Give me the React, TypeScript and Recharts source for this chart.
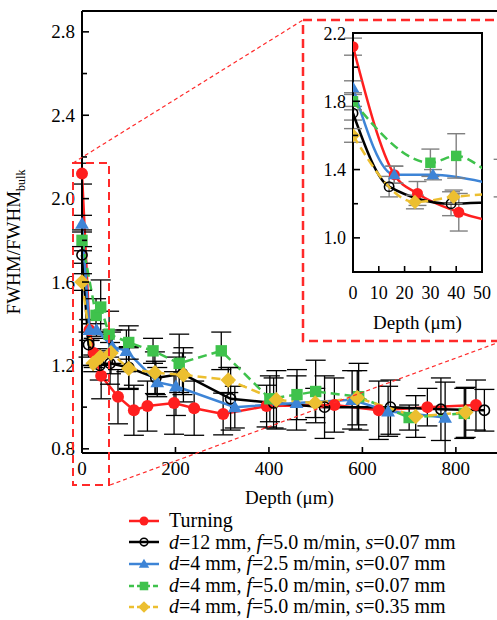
import React from 'react';
import { LineChart, Line, XAxis, YAxis, ErrorBar, ReferenceLine, ReferenceArea, Label } from 'recharts';

// depth (µm), FWHM/FWHM_bulk and error, per surface condition
const turningDepth = [0, 16, 25, 41, 77, 111, 140, 197, 240, 302, 395, 540, 635, 739, 843];
const turningFwhm = [2.12, 1.37, 1.26, 1.15, 1.05, 0.985, 1.005, 1.02, 0.995, 0.967, 1.005, 1.01, 0.985, 1.0, 1.01];
const turningErr = [0.05, 0.05, 0.07, 0.11, 0.13, 0.12, 0.12, 0.15, 0.13, 0.1, 0.1, 0.13, 0.14, 0.09, 0.12];

const d12Depth = [0, 14, 38, 60, 100, 158, 215, 318, 410, 519, 660, 768, 861];
const d12Fwhm = [1.73, 1.3, 1.2, 1.21, 1.19, 1.14, 1.16, 1.04, 1.02, 1.0, 1.0, 0.99, 0.985];
const d12Err = [0.04, 0.06, 0.07, 0.1, 0.1, 0.08, 0.1, 0.15, 0.12, 0.15, 0.13, 0.15, 0.1];

const f25Depth = [0, 16, 31, 65, 95, 161, 201, 327, 459, 578, 655, 777];
const f25Fwhm = [1.88, 1.37, 1.37, 1.29, 1.27, 1.12, 1.1, 1.0, 1.02, 1.035, 0.98, 0.95];
const f25Err = [0.04, 0.05, 0.03, 0.08, 0.1, 0.07, 0.14, 0.1, 0.13, 0.14, 0.12, 0.17];

const f50Depth = [0, 30, 40, 58, 100, 152, 208, 298, 402, 460, 500, 592, 700, 818];
const f50Fwhm = [1.8, 1.44, 1.48, 1.35, 1.31, 1.27, 1.21, 1.27, 1.04, 1.06, 1.075, 1.05, 0.95, 0.97];
const f50Err = [0.05, 0.08, 0.13, 0.11, 0.08, 0.06, 0.14, 0.09, 0.11, 0.12, 0.15, 0.16, 0.06, 0.12];

const s35Depth = [0, 24, 39, 62, 100, 156, 217, 313, 416, 499, 589, 714, 821];
const s35Fwhm = [1.6, 1.21, 1.24, 1.26, 1.185, 1.165, 1.155, 1.13, 1.035, 1.02, 1.045, 0.955, 0.975];
const s35Err = [0.04, 0.04, 0.04, 0.1, 0.1, 0.1, 0.13, 0.06, 0.14, 0.07, 0.13, 0.1, 0.12];

const mainXTicks = [0, 200, 400, 600, 800];
const mainYTicks = [0.8, 1.0, 1.2, 1.4, 1.6, 1.8, 2.0, 2.2, 2.4, 2.6, 2.8];
const mainYLabels = ['0.8', '1.2', '1.6', '2.0', '2.4', '2.8'];
const insetXTicks = [0, 10, 20, 30, 40, 50];
const insetYTicks = [0.8, 1.0, 1.2, 1.4, 1.6, 1.8, 2.0, 2.2];
const insetYLabels = ['1.0', '1.4', '1.8', '2.2'];

const FONT = "'Liberation Serif', 'Times New Roman', serif";

const toRows = (d: number[], v: number[], e: number[]) => d.map((x, i) => ({ depth: x, fwhm: v[i], err: e[i] }));

const series = [
  { key: 'turning', data: toRows(turningDepth, turningFwhm, turningErr), color: '#ff1f1f', shape: 'circle', dash: undefined },
  { key: 'd12', data: toRows(d12Depth, d12Fwhm, d12Err), color: '#000000', shape: 'open', dash: undefined },
  { key: 'f25', data: toRows(f25Depth, f25Fwhm, f25Err), color: '#3d84d6', shape: 'triangle', dash: undefined },
  { key: 'f50', data: toRows(f50Depth, f50Fwhm, f50Err), color: '#3fc24c', shape: 'square', dash: '9 5' },
  { key: 's35', data: toRows(s35Depth, s35Fwhm, s35Err), color: '#ecbf30', shape: 'diamond', dash: '9 5' },
];

function Marker({ shape, color, cx, cy, s }: any) {
  if (shape === 'circle') return <circle cx={cx} cy={cy} r={s} fill={color} />;
  if (shape === 'open') return <circle cx={cx} cy={cy} r={s * 0.85} fill="none" stroke="#000" strokeWidth={1.6} />;
  if (shape === 'triangle')
    return <polygon points={`${cx},${cy - s * 1.15} ${cx - s * 1.15},${cy + s * 0.85} ${cx + s * 1.15},${cy + s * 0.85}`} fill={color} />;
  if (shape === 'square') return <rect x={cx - s * 0.95} y={cy - s * 0.95} width={s * 1.9} height={s * 1.9} fill={color} />;
  return <polygon points={`${cx},${cy - s * 1.3} ${cx + s * 1.3},${cy} ${cx},${cy + s * 1.3} ${cx - s * 1.3},${cy}`} fill={color} />;
}

const makeDot = (shape: string, color: string, s: number) => (p: any) => {
  if (p.cx == null || p.cy == null) return <g key={p.index} />;
  return <Marker key={p.index} shape={shape} color={color} cx={p.cx} cy={p.cy} s={s} />;
};

const makeYTick = (labels: string[], fontSize: number) => (p: any) => {
  const txt = p.payload.value.toFixed(1);
  const major = labels.includes(txt);
  return (
    <g>
      <line x1={p.x} x2={p.x + (major ? 7 : 5)} y1={p.y} y2={p.y} stroke="#000" strokeWidth={1.6} />
      {major && (
        <text x={p.x - 7} y={p.y + 6.5} textAnchor="end" fontFamily={FONT} fontSize={fontSize} fill="#000">
          {txt}
        </text>
      )}
    </g>
  );
};

const makeXTick = (fontSize: number, dy: number) => (p: any) => (
  <g>
    <line x1={p.x} x2={p.x} y1={p.y} y2={p.y - 6} stroke="#000" strokeWidth={1.6} />
    <text x={p.x} y={p.y + dy} textAnchor="middle" fontFamily={FONT} fontSize={fontSize} fill="#000">
      {p.payload.value}
    </text>
  </g>
);

function YLabel({ viewBox }: any) {
  const cx = 20;
  const cy = viewBox.y + viewBox.height / 2 + 10;
  return (
    <text transform={`rotate(-90 ${cx} ${cy})`} x={cx} y={cy} textAnchor="middle" fontFamily={FONT} fontSize={19} fill="#000">
      FWHM/FWHM
      <tspan fontSize={12} dy={5}>bulk</tspan>
    </text>
  );
}

const legendItems = [
  { key: 'turning', label: <>Turning</> },
  { key: 'd12', label: <><i>d</i>=12 mm, <i>f</i>=5.0 m/min, <i>s</i>=0.07 mm</> },
  { key: 'f25', label: <><i>d</i>=4 mm, <i>f</i>=2.5 m/min, <i>s</i>=0.07 mm</> },
  { key: 'f50', label: <><i>d</i>=4 mm, <i>f</i>=5.0 m/min, <i>s</i>=0.07 mm</> },
  { key: 's35', label: <><i>d</i>=4 mm, <i>f</i>=5.0 m/min, <i>s</i>=0.35 mm</> },
];

export default function App() {
  return (
    <div style={{ position: 'absolute', left: 0, top: 0, width: 497, height: 620, background: '#fff', fontFamily: FONT }}>
      <LineChart width={497} height={510} margin={{ top: 11, right: 0, left: 0, bottom: 0 }}>
        <XAxis
          dataKey="depth"
          type="number"
          domain={[0, 888]}
          ticks={mainXTicks}
          interval={0}
          tickSize={0}
          tickMargin={0}
          tick={makeXTick(19, 21.5)}
          axisLine={{ stroke: '#000', strokeWidth: 2 }}
          height={57}
        >
          <Label value="Depth (μm)" position="insideBottom" offset={6} fontFamily={FONT} fontSize={19} fill="#000" />
        </XAxis>
        <YAxis
          type="number"
          domain={[0.8, 2.9]}
          ticks={mainYTicks}
          interval={0}
          tickSize={0}
          tickMargin={0}
          tick={makeYTick(mainYLabels, 19)}
          axisLine={{ stroke: '#000', strokeWidth: 2 }}
          width={82}
          label={<YLabel />}
        />
        <ReferenceLine y={2.9} stroke="#000" strokeWidth={2} />
        {series.map((s) => (
          <Line
            key={s.key}
            data={s.data}
            dataKey="fwhm"
            type="linear"
            stroke={s.color}
            strokeWidth={2.5}
            strokeDasharray={s.dash}
            dot={makeDot(s.shape, s.color, 6)}
            activeDot={false}
            isAnimationActive={false}
          >
            <ErrorBar dataKey="err" direction="y" width={10} stroke="#000" strokeWidth={1.3} />
          </Line>
        ))}
      </LineChart>

      <div style={{ position: 'absolute', left: 303, top: 20, width: 194, height: 321, background: '#fff' }}>
        <LineChart width={194} height={321} margin={{ top: 13, right: 15, left: 0, bottom: 0 }}>
          <XAxis
            dataKey="depth"
            type="number"
            domain={[0, 50]}
            allowDataOverflow
            ticks={insetXTicks}
            interval={0}
            tickSize={0}
            tickMargin={0}
            tick={makeXTick(18, 27)}
            axisLine={{ stroke: '#000', strokeWidth: 2 }}
            height={69}
          >
            <Label value="Depth (μm)" position="insideBottom" offset={12} fontFamily={FONT} fontSize={19} fill="#000" />
          </XAxis>
          <YAxis
            type="number"
            domain={[0.8, 2.2]}
            allowDataOverflow
            ticks={insetYTicks}
            interval={0}
            tickSize={0}
            tickMargin={0}
            tick={makeYTick(insetYLabels, 18)}
            axisLine={{ stroke: '#000', strokeWidth: 2 }}
            width={50}
          />
          <ReferenceArea x1={0} x2={50} y1={0.8} y2={2.2} fill="none" stroke="#000" strokeWidth={2} fillOpacity={0} />
          {series.map((s) => (
            <Line
              key={s.key}
              data={s.data}
              dataKey="fwhm"
              type="monotone"
              stroke={s.color}
              strokeWidth={2.5}
              strokeDasharray={s.dash}
              dot={makeDot(s.shape, s.color, 5.5)}
              activeDot={false}
              isAnimationActive={false}
            >
              <ErrorBar dataKey="err" direction="y" width={9} stroke="#808080" strokeWidth={1.4} />
            </Line>
          ))}
        </LineChart>
      </div>

      <svg width={497} height={620} style={{ position: 'absolute', left: 0, top: 0, pointerEvents: 'none' }}>
        <rect x={73} y={163} width={36} height={322} fill="none" stroke="#ff2a2a" strokeWidth={2} strokeDasharray="8 5" />
        <rect x={303} y={20} width={204} height={321} fill="none" stroke="#ff2a2a" strokeWidth={2.5} strokeDasharray="9 5" />
        <line x1={73} y1={163} x2={303} y2={20} stroke="#ff2a2a" strokeWidth={1.2} strokeDasharray="4 3" />
        <line x1={110} y1={485} x2={497} y2={343} stroke="#ff2a2a" strokeWidth={1.2} strokeDasharray="4 3" />
      </svg>

      <div style={{ position: 'absolute', left: 128, top: 510 }}>
        {legendItems.map((it) => {
          const s = series.find((x) => x.key === it.key)!;
          return (
            <div key={it.key} style={{ display: 'flex', alignItems: 'center', height: 21.6 }}>
              <svg width={32} height={16} style={{ marginRight: 9 }}>
                <line x1={1} x2={31} y1={8} y2={8} stroke={s.color} strokeWidth={2.5} strokeDasharray={s.dash ? '5 3' : undefined} />
                <Marker shape={s.shape} color={s.color} cx={16} cy={8} s={4.5} />
              </svg>
              <span style={{ fontSize: 20, lineHeight: '21.6px', color: '#000', whiteSpace: 'nowrap' }}>{it.label}</span>
            </div>
          );
        })}
      </div>
    </div>
  );
}
